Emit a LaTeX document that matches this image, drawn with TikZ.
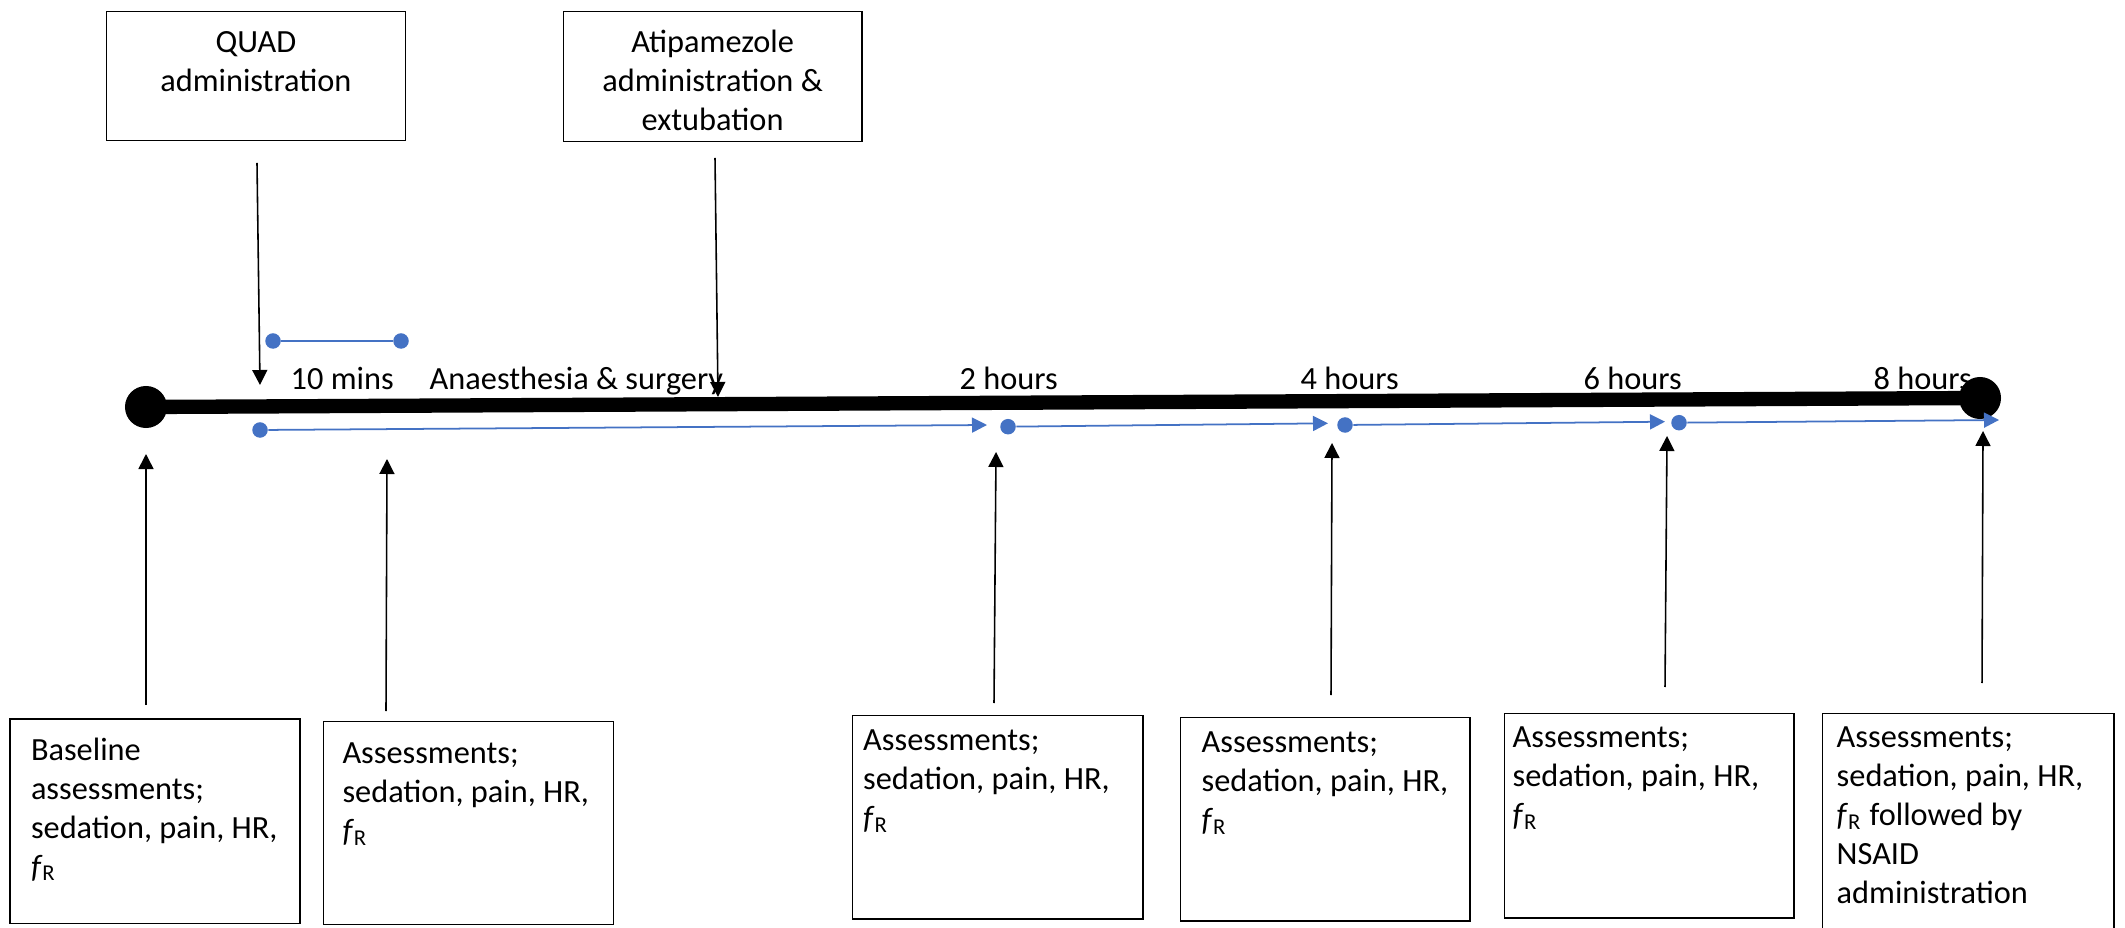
\documentclass[tikz,border=0pt]{standalone}
\usepackage{fontspec}
\setmainfont{Carlito}
\usetikzlibrary{arrows.meta}
\definecolor{officeblue}{HTML}{4472C4}
\newcommand{\fR}{\textit{f}\textsubscript{R}}
\begin{document}
\begin{tikzpicture}[x=0.01cm,y=-0.01cm,font=\fontsize{9.2}{11.1}\selectfont,
box/.style={draw,line width=0.4pt,inner sep=0pt,anchor=north west},
txt/.style={inner sep=0pt,align=left,anchor=north west},
ttl/.style={inner sep=0pt,align=center,anchor=north},
lbl/.style={inner sep=0pt,anchor=base west},
dot/.style={circle,fill=officeblue,inner sep=0pt,minimum size=0.155cm},
bigdot/.style={circle,fill=black,inner sep=0pt,minimum size=0.42cm},
pointer/.style={line width=0.45pt,-{Triangle[length=0.15cm,width=0.15cm]}},
flow/.style={officeblue,line width=0.5pt,-{Triangle[length=0.15cm,width=0.15cm]}}]
\useasboundingbox (0,0) rectangle (2125,928);
\node[box,minimum width=2.99cm,minimum height=1.293cm] (quad) at (105.6,10.7) {};
\node[ttl] (quadtxt) at ([yshift=-0.137cm]quad.north) {\strut QUAD\\administration};
\node[box,minimum width=2.984cm,minimum height=1.30cm] (atip) at (562.6,10.7) {};
\node[ttl] (atiptxt) at ([yshift=-0.137cm]atip.north) {\strut Atipamezole\\administration \&\\extubation};
\node[box,minimum width=2.90cm,minimum height=2.044cm] (base) at (9.3,718.3) {};
\node[txt] (basetxt) at ([shift={(21,13.7)}]base.north west) {\strut Baseline\\assessments;\\sedation, pain, HR,\\\fR};
\node[box,minimum width=2.90cm,minimum height=2.03cm] (ten) at (322.8,720.7) {};
\node[txt] (tentxt) at ([shift={(19,14.7)}]ten.north west) {\strut Assessments;\\sedation, pain, HR,\\\fR};
\node[box,minimum width=2.90cm,minimum height=2.03cm] (two) at (852,715) {};
\node[txt] (twotxt) at ([shift={(10.5,7.7)}]two.north west) {\strut Assessments;\\sedation, pain, HR,\\\fR};
\node[box,minimum width=2.89cm,minimum height=2.03cm] (four) at (1180,717) {};
\node[txt] (fourtxt) at ([shift={(21,7.7)}]four.north west) {\strut Assessments;\\sedation, pain, HR,\\\fR};
\node[box,minimum width=2.89cm,minimum height=2.043cm] (six) at (1504,712.7) {};
\node[txt] (sixtxt) at ([shift={(8,6.7)}]six.north west) {\strut Assessments;\\sedation, pain, HR,\\\fR};
\node[box,minimum width=2.91cm,minimum height=2.4cm] (eight) at (1822,712.7) {};
\node[txt] (eighttxt) at ([shift={(14,6.7)}]eight.north west) {\strut Assessments;\\sedation, pain, HR,\\\fR{} followed by\\NSAID\\administration};
\node[lbl] (tmins) at (290,390) {10 mins};
\node[lbl] (tanae) at (429,390) {Anaesthesia \& surgery};
\node[lbl] (ttwo) at (959,390) {2 hours};
\node[lbl] (tfour) at (1300,390) {4 hours};
\node[lbl] (tsix) at (1583,390) {6 hours};
\node[lbl] (teight) at (1873,390) {8 hours};
\node[bigdot] (start) at (146,407) {};
\node[bigdot] (stop) at (1980,398) {};
\draw[line width=0.143cm] (start.center)--(stop.center);
\node[dot] (q1) at (273,341) {};
\node[dot] (q2) at (401,341) {};
\draw[officeblue,line width=0.5pt] (q1)--(q2);
\node[dot] (s0) at (260,430) {};
\node[dot] (s2) at (1008,426.7) {};
\node[dot] (s4) at (1345,425) {};
\node[dot] (s6) at (1679,422.7) {};
\coordinate (e2) at (987,425);
\coordinate (e4) at (1328,423.3);
\coordinate (e6) at (1665,421.7);
\coordinate (e8) at (1999,420);
\draw[flow] (s0)--(e2);
\draw[flow] (s2)--(e4);
\draw[flow] (s4)--(e6);
\draw[flow] (s6)--(e8);
\coordinate (qa) at (257,163);
\coordinate (qb) at (260,385);
\coordinate (aa) at (715,158);
\coordinate (ab) at (718,397);
\draw[pointer] (qa)--(qb);
\draw[pointer] (aa)--(ab);
\coordinate (u0) at (146,705);
\coordinate (p0) at (146,454);
\coordinate (u1) at (386,711);
\coordinate (p1) at (387,459);
\coordinate (u2) at (994,703);
\coordinate (p2) at (996,452);
\coordinate (u3) at (1331,695);
\coordinate (p3) at (1332,443);
\coordinate (u4) at (1665,687);
\coordinate (p4) at (1667,436);
\coordinate (u5) at (1982,683);
\coordinate (p5) at (1983,431);
\draw[pointer] (u0)--(p0);
\draw[pointer] (u1)--(p1);
\draw[pointer] (u2)--(p2);
\draw[pointer] (u3)--(p3);
\draw[pointer] (u4)--(p4);
\draw[pointer] (u5)--(p5);
\end{tikzpicture}
\end{document}
